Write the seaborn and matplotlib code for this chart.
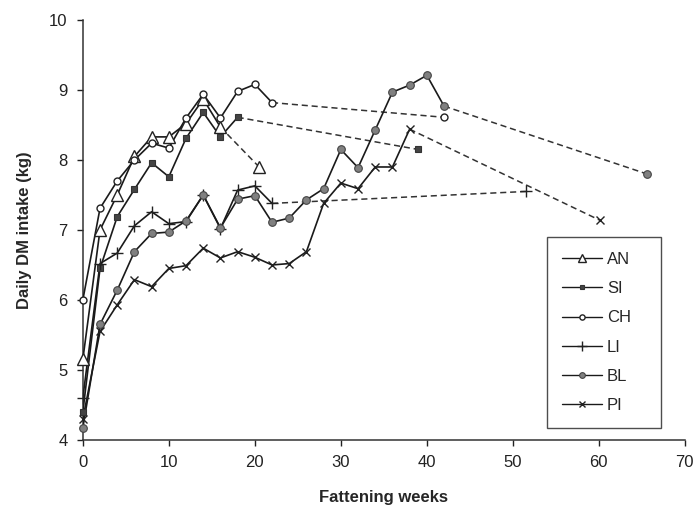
import matplotlib
matplotlib.use("Agg")
import matplotlib.pyplot as plt
import seaborn as sns
import pandas as pd

# fattening week grid (measurements every 2 weeks)
weeks = [0, 2, 4, 6, 8, 10, 12, 14, 16, 18, 20, 22, 24, 26, 28, 30, 32, 34,
         36, 38, 40, 42]

breeds = ["AN", "SI", "CH", "LI", "BL", "PI"]

an_intake = [5.15, 7.0, 7.5, 8.05, 8.33, 8.33, 8.52, 8.87, 8.47]
si_intake = [4.4, 6.45, 7.19, 7.58, 7.96, 7.76, 8.31, 8.68, 8.33, 8.61]
ch_intake = [6.0, 7.31, 7.7, 8.0, 8.24, 8.17, 8.6, 8.94, 8.6, 8.98, 9.08, 8.82]
li_intake = [4.6, 6.52, 6.67, 7.06, 7.26, 7.09, 7.12, 7.5, 7.02, 7.57, 7.63,
             7.38]
bl_intake = [4.17, 5.65, 6.14, 6.69, 6.95, 6.97, 7.13, 7.5, 7.03, 7.44, 7.49,
             7.11, 7.17, 7.43, 7.59, 8.15, 7.89, 8.43, 8.97, 9.07, 9.21, 8.77]
pi_intake = [4.3, 5.55, 5.93, 6.29, 6.19, 6.45, 6.49, 6.74, 6.6, 6.69, 6.61,
             6.5, 6.52, 6.69, 7.38, 7.67, 7.59, 7.9, 7.9, 8.44]

# final (slaughter) point, joined by a dashed line
final_week = [20.5, 39, 42, 51.5, 65.6, 60.1]
final_intake = [7.9, 8.15, 8.61, 7.55, 7.8, 7.14]

intakes = [an_intake, si_intake, ch_intake, li_intake, bl_intake, pi_intake]

styles = {
    "AN": dict(marker="^", ms=8, mfc="white", mec="#222222", mew=1.0),
    "SI": dict(marker="s", ms=4, mfc="#444444", mec="#333333", mew=0.8),
    "CH": dict(marker="o", ms=5, mfc="white", mec="#222222", mew=1.0),
    "LI": dict(marker="+", ms=9, mfc="none", mec="#222222", mew=1.0),
    "BL": dict(marker="o", ms=5.5, mfc="#808080", mec="#444444", mew=0.8),
    "PI": dict(marker="x", ms=6, mfc="none", mec="#222222", mew=1.0),
}

sns.set_style("ticks")
plt.rcParams["font.family"] = ["Liberation Sans Narrow", "Liberation Sans",
                               "DejaVu Sans"]

fig = plt.figure(figsize=(6.96, 5.2), dpi=100)
ax = fig.add_axes([0.119, 0.154, 0.865, 0.8075])

rows = []
for b, vals, fw, fv in zip(breeds, intakes, final_week, final_intake):
    for w, v in zip(weeks[:len(vals)], vals):
        rows.append({"breed": b, "week": w, "intake": v, "part": "solid"})
    rows.append({"breed": b, "week": weeks[len(vals) - 1], "intake": vals[-1],
                 "part": "dash"})
    rows.append({"breed": b, "week": fw, "intake": fv, "part": "dash"})
df = pd.DataFrame(rows)

handles = []
for b in breeds:
    st = styles[b]
    dash = df[(df.breed == b) & (df.part == "dash")]
    sns.lineplot(data=dash, x="week", y="intake", ax=ax, sort=False,
                 estimator=None, color="#333333", lw=1.1,
                 linestyle=(0, (4, 2.5)), zorder=2)
    last = dash.iloc[[1]]
    ax.plot(last.week, last.intake, ls="none", zorder=4, clip_on=False, **st)
    solid = df[(df.breed == b) & (df.part == "solid")]
    sns.lineplot(data=solid, x="week", y="intake", ax=ax, sort=False,
                 estimator=None, color="#1a1a1a", lw=1.2, zorder=3)
    ax.plot(solid.week, solid.intake, ls="none", zorder=4, clip_on=False, **st)
    h, = ax.plot([], [], color="#1a1a1a", lw=1.0, label=b, **st)
    handles.append(h)

ax.set_xlim(0, 70)
ax.set_ylim(4, 10)
ax.set_xticks([0, 10, 20, 30, 40, 50, 60, 70])
ax.set_yticks([4, 5, 6, 7, 8, 9, 10])
ax.tick_params(axis="both", labelsize=12, length=4, width=1, direction="out",
               colors="#222222", pad=7)
sns.despine(ax=ax)
for s in ["left", "bottom"]:
    ax.spines[s].set_linewidth(1.1)
    ax.spines[s].set_color("#333333")

ax.set_xlabel("Fattening weeks", fontsize=12, fontweight="bold", labelpad=14)
ax.set_ylabel("Daily DM intake (kg)", fontsize=12, fontweight="bold",
              labelpad=12)

leg = ax.legend(handles=handles, loc="upper left",
                bbox_to_anchor=(0.771, 0.483, 0.19, 0.0), mode="expand",
                borderaxespad=0, fancybox=False, frameon=True,
                edgecolor="#222222", fontsize=12, handlelength=2.4,
                labelspacing=0.85, borderpad=0.9, handletextpad=0.3,
                markerscale=0.75)
leg.get_frame().set_linewidth(1.0)

fig.savefig("out.png", dpi=100)
